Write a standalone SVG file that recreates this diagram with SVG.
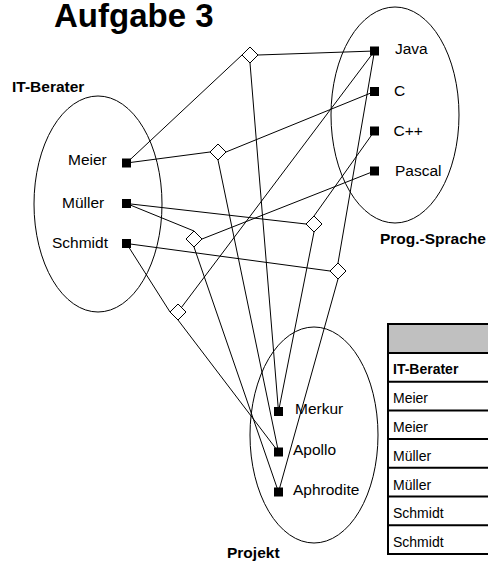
<svg xmlns="http://www.w3.org/2000/svg" width="488" height="562" viewBox="0 0 488 562">
  <style>
    .lbl { font-family: "Liberation Sans", Arial, sans-serif; font-size: 15.5px; fill: #000; }
    .bold { font-family: "Liberation Sans", Arial, sans-serif; font-weight: bold; font-size: 15.5px; fill: #000; }
    .title { font-family: "Liberation Sans", Arial, sans-serif; font-weight: bold; font-size: 33px; fill: #000; }
    .cell { font-family: "Liberation Sans", Arial, sans-serif; font-size: 14px; fill: #000; }
    .set { fill: none; stroke: #000; stroke-width: 1; }
    .conn line { stroke: #000; stroke-width: 1; }
    .dia { fill: #fff; stroke: #000; stroke-width: 1; }
    .sq { fill: #000; }
    .grid { stroke: #000; stroke-width: 2; fill: none; }
  </style>
  <defs>
    <rect id="sq" class="sq" x="-4.5" y="-4.5" width="9" height="9"/>
    <polygon id="dia" class="dia" points="0,-8 8,0 0,8 -8,0"/>
  </defs>

  <rect width="488" height="562" fill="#fff"/>

  <text class="title" x="54" y="27">Aufgabe 3</text>

  <!-- sets -->
  <g id="set-berater">
    <ellipse class="set" cx="98" cy="204" rx="64" ry="108"/>
    <text class="bold" x="12" y="92">IT-Berater</text>
  </g>
  <g id="set-sprache">
    <ellipse class="set" cx="395" cy="115" rx="64" ry="108"/>
    <text class="bold" x="380" y="244">Prog.-Sprache</text>
  </g>
  <g id="set-projekt">
    <ellipse class="set" cx="314" cy="435" rx="64" ry="108"/>
    <text class="bold" x="227" y="558">Projekt</text>
  </g>

  <!-- connectors -->
  <g id="connectors" class="conn">
    <line x1="126.5" y1="163" x2="242" y2="55"/>
    <line x1="258" y1="55" x2="374.5" y2="51"/>
    <line x1="250" y1="63" x2="278.5" y2="411.5"/>
    <line x1="126.5" y1="163" x2="210" y2="152"/>
    <line x1="226" y1="152" x2="374.5" y2="91.5"/>
    <line x1="218" y1="160" x2="278.5" y2="452"/>
    <line x1="126.5" y1="203.5" x2="194" y2="231"/>
    <line x1="202" y1="239" x2="374.5" y2="171"/>
    <line x1="194" y1="247" x2="278.5" y2="492"/>
    <line x1="126.5" y1="243.5" x2="170" y2="312"/>
    <line x1="178" y1="312" x2="374.5" y2="51"/>
    <line x1="178" y1="320" x2="278.5" y2="452"/>
    <line x1="126.5" y1="203.5" x2="306" y2="224"/>
    <line x1="314" y1="216" x2="374.5" y2="131"/>
    <line x1="314" y1="232" x2="278.5" y2="411.5"/>
    <line x1="126.5" y1="243.5" x2="330" y2="271"/>
    <line x1="338" y1="263" x2="374.5" y2="51"/>
    <line x1="338" y1="279" x2="278.5" y2="492"/>
  </g>

  <!-- relationship instances -->
  <g id="rel-1"><use href="#dia" x="250" y="55"/></g>
  <g id="rel-2"><use href="#dia" x="218" y="152"/></g>
  <g id="rel-3"><use href="#dia" x="194" y="239"/></g>
  <g id="rel-4"><use href="#dia" x="178" y="312"/></g>
  <g id="rel-5"><use href="#dia" x="314" y="224"/></g>
  <g id="rel-6"><use href="#dia" x="338" y="271"/></g>

  <!-- IT-Berater entities -->
  <g id="meier"><use href="#sq" x="126.5" y="163"/><text class="lbl" x="68" y="164.5">Meier</text></g>
  <g id="mueller"><use href="#sq" x="126.5" y="203.5"/><text class="lbl" x="62" y="207.5">Müller</text></g>
  <g id="schmidt"><use href="#sq" x="126.5" y="243.5"/><text class="lbl" x="52" y="247.5">Schmidt</text></g>

  <!-- Prog.-Sprache entities -->
  <g id="java"><use href="#sq" x="374.5" y="51"/><text class="lbl" x="395" y="53.5">Java</text></g>
  <g id="c"><use href="#sq" x="374.5" y="91.5"/><text class="lbl" x="394" y="95.5">C</text></g>
  <g id="cpp"><use href="#sq" x="374.5" y="131"/><text class="lbl" x="393.5" y="136">C++</text></g>
  <g id="pascal"><use href="#sq" x="374.5" y="171"/><text class="lbl" x="395" y="176">Pascal</text></g>

  <!-- Projekt entities -->
  <g id="merkur"><use href="#sq" x="278.5" y="411.5"/><text class="lbl" x="295" y="414">Merkur</text></g>
  <g id="apollo"><use href="#sq" x="278.5" y="452"/><text class="lbl" x="293" y="455">Apollo</text></g>
  <g id="aphrodite"><use href="#sq" x="278.5" y="492"/><text class="lbl" x="293" y="495">Aphrodite</text></g>

  <!-- relation table -->
  <g id="table">
    <rect x="388" y="324" width="120" height="29" fill="#c0c0c0"/>
    <rect class="grid" x="388" y="324" width="120" height="230"/>
    <line class="grid" x1="388" y1="353" x2="488" y2="353"/>
    <line class="grid" x1="388" y1="381.7" x2="488" y2="381.7"/>
    <line class="grid" x1="388" y1="410.4" x2="488" y2="410.4"/>
    <line class="grid" x1="388" y1="439.1" x2="488" y2="439.1"/>
    <line class="grid" x1="388" y1="467.8" x2="488" y2="467.8"/>
    <line class="grid" x1="388" y1="496.5" x2="488" y2="496.5"/>
    <line class="grid" x1="388" y1="525.2" x2="488" y2="525.2"/>
    <text class="cell" font-weight="bold" x="393" y="374">IT-Berater</text>
    <text class="cell" x="393" y="403">Meier</text>
    <text class="cell" x="393" y="432">Meier</text>
    <text class="cell" x="393" y="461">Müller</text>
    <text class="cell" x="393" y="489.5">Müller</text>
    <text class="cell" x="393" y="518">Schmidt</text>
    <text class="cell" x="393" y="547">Schmidt</text>
  </g>
</svg>
